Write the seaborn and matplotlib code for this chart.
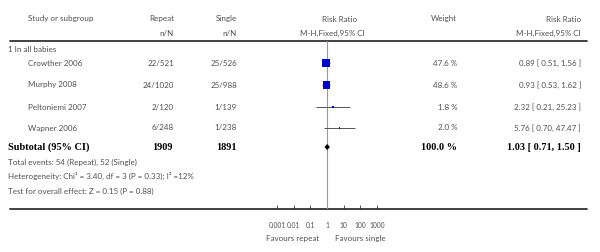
import numpy as np
import pandas as pd
import matplotlib
matplotlib.use("Agg")
import matplotlib.pyplot as plt
import seaborn as sns

# data
studies = ["Crowther 2006", "Murphy 2008", "Peltoniemi 2007", "Wapner 2006"]
repeat_events = [22, 24, 2, 6]
repeat_total = [521, 1020, 120, 248]
single_events = [25, 25, 1, 1]
single_total = [526, 988, 139, 238]
weights = [47.6, 48.6, 1.8, 2.0]
rr = [0.89, 0.93, 2.32, 5.76]
rr_lo = [0.51, 0.53, 0.21, 0.70]
rr_hi = [1.56, 1.62, 25.23, 47.47]
total_rr, total_lo, total_hi = 1.03, 0.71, 1.50
tick_vals = [0.001, 0.01, 0.1, 1, 10, 100, 1000]
tick_labels = ["0.001", "0.01", "0.1", "1", "10", "100", "1000"]

df = pd.DataFrame({"study": studies, "re": repeat_events, "rn": repeat_total,
                   "se": single_events, "sn": single_total, "w": weights,
                   "rr": rr, "lo": rr_lo, "hi": rr_hi})

# layout (pixel rows of the table)
W, H = 600, 252
row_y = [63, 85, 107, 128]
sub_y = 147
top_line, bot_line = 41, 209
df["y"] = row_y

sns.set_style("white")
plt.rcParams["font.family"] = ["Lato", "DejaVu Sans"]
grey = "#505050"
light = dict(fontsize=5.8, color=grey, fontweight="normal", va="center")
bold = dict(fontsize=7.4, color="black", fontweight="bold", va="center",
            family=["Liberation Serif", "DejaVu Serif"])

fig = plt.figure(figsize=(6, 2.52), dpi=100)
tab = fig.add_axes([0, 0, 1, 1])
tab.set_xlim(0, W)
tab.set_ylim(H, 0)
tab.axis("off")

# headers
tab.text(28, 19, "Study or subgroup", ha="left", **light)
tab.text(174, 19, "Repeat", ha="right", **light)
tab.text(174, 33, "n/N", ha="right", **light)
tab.text(237, 19, "Single", ha="right", **light)
tab.text(237, 33, "n/N", ha="right", **light)
tab.text(340, 19, "Risk Ratio", ha="center", **light)
tab.text(332, 33, "M-H,Fixed,95% CI", ha="center", **light)
tab.text(457, 19, "Weight", ha="right", **light)
tab.text(581, 19, "Risk Ratio", ha="right", **light)
tab.text(581, 33, "M-H,Fixed,95% CI", ha="right", **light)
tab.plot([10, 587], [top_line, top_line], color="#333333", lw=1.3)
tab.plot([10, 587], [bot_line, bot_line], color="#333333", lw=1.3)

tab.text(8, 50, "1 In all babies", ha="left", **light)
for _, r in df.iterrows():
    tab.text(28, r.y, r.study, ha="left", **light)
    tab.text(174, r.y, f"{r.re}/{r.rn}", ha="right", **light)
    tab.text(237, r.y, f"{r.se}/{r.sn}", ha="right", **light)
    tab.text(457, r.y, f"{r.w:.1f} %", ha="right", **light)
    tab.text(581, r.y, f"{r.rr:.2f} [ {r.lo:.2f}, {r.hi:.2f} ]", ha="right", **light)

tab.text(8, sub_y, "Subtotal (95% CI)", ha="left", **bold)
tab.text(173, sub_y, str(sum(repeat_total)), ha="right", **bold)
tab.text(237, sub_y, str(sum(single_total)), ha="right", **bold)
tab.text(457, sub_y, f"{sum(weights):.1f} %", ha="right", **bold)
tab.text(581, sub_y, f"{total_rr:.2f} [ {total_lo:.2f}, {total_hi:.2f} ]", ha="right", **bold)

tab.text(8, 162, f"Total events: {sum(repeat_events)} (Repeat), {sum(single_events)} (Single)", ha="left", **light)
tab.text(8, 176, "Heterogeneity: Chi² = 3.40, df = 3 (P = 0.33); I² =12%", ha="left", **light)
tab.text(8, 191, "Test for overall effect: Z = 0.15 (P = 0.88)", ha="left", **light)
tab.text(319, 238, "Favours repeat", ha="right", **light)
tab.text(335, 238, "Favours single", ha="left", **light)

# forest panel: log axis 0.001..1000 spans x 277..377
ax = fig.add_axes([277 / W, (H - bot_line) / H, 100 / W, (bot_line - top_line) / H])
ax.patch.set_alpha(0)
ax.set_xscale("log")
ax.set_xlim(0.001, 1000)
ax.set_ylim(bot_line, top_line)
for s in ax.spines.values():
    s.set_visible(False)
ax.axvline(1, color="#999999", lw=0.8, zorder=1)
ax.hlines(df.y, df.lo, df.hi, color="#555555", lw=0.7, zorder=2)
sns.scatterplot(data=df, x="rr", y="y", size="w", sizes=(0, 30), size_norm=(0, 48.6),
                marker="s", color="#0000cc", edgecolor="none", legend=False, ax=ax,
                zorder=3)
ax.fill([total_lo, total_rr, total_hi, total_rr], [sub_y, sub_y - 3, sub_y, sub_y + 3],
        color="black", lw=0, zorder=3)
ax.set_xticks(tick_vals)
ax.set_xticklabels(tick_labels)
ax.minorticks_off()
ax.set_yticks([])
ax.tick_params(axis="x", direction="in", length=3, width=0.6, color="#333333",
               pad=9, labelsize=4.8, labelcolor=grey, bottom=True)
ax.set_xlabel("")
ax.set_ylabel("")

fig.savefig("out.png", dpi=100)
